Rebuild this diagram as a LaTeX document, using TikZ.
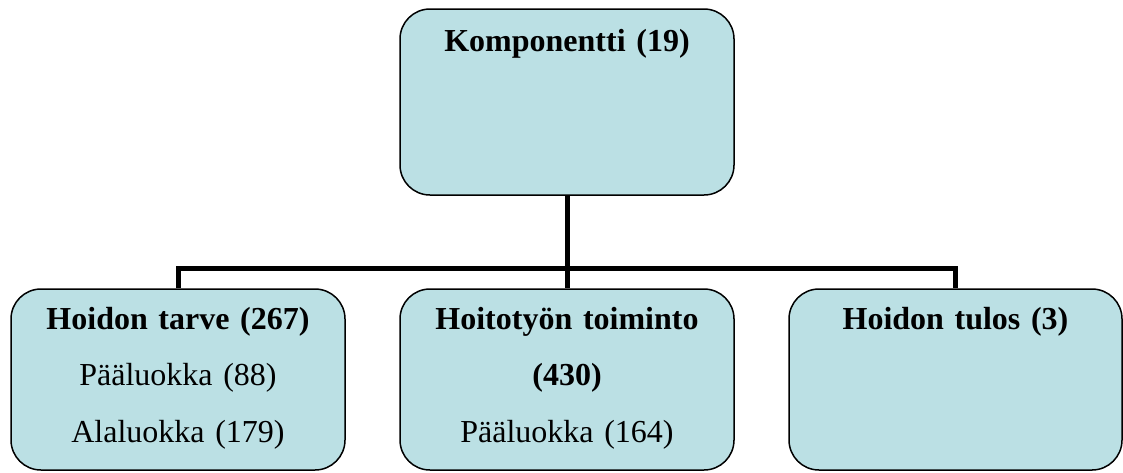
\documentclass[tikz,border=0pt]{standalone}
\usepackage{fontspec}
\setmainfont{Liberation Serif}
\definecolor{boxfill}{RGB}{187,224,228}
\tikzset{
  box/.style={rectangle,rounded corners=30pt,draw=black,line width=1.5pt,fill=boxfill,
    minimum width=334pt,inner sep=0pt},
  txt/.style={anchor=base,align=center,text width=320pt,inner sep=0pt,
    font=\fontsize{32}{56.5}\selectfont},
  conn/.style={line width=5pt}
}
\begin{document}
\begin{tikzpicture}[x=1pt,y=1pt]
\useasboundingbox (0,0) rectangle (1123,-472);
\node[box,minimum height=186pt] (K) at (567,-102) {};
\node[box,minimum height=181pt] (T) at (178,-379.5) {};
\node[box,minimum height=181pt] (M) at (567,-379.5) {};
\node[box,minimum height=181pt,minimum width=333pt] (R) at (955.5,-379.5) {};
\node[txt] (Kt) at ([yshift=-43pt]K.north) {\textbf{Komponentti (19)}};
\node[txt] (Tt) at ([yshift=-41pt]T.north) {\textbf{Hoidon tarve (267)}\\ Pääluokka (88)\\ Alaluokka (179)};
\node[txt] (Mt) at ([yshift=-41pt]M.north) {\textbf{Hoitotyön toiminto}\\ \textbf{(430)}\\ Pääluokka (164)};
\node[txt] (Rt) at ([yshift=-41pt]R.north) {\textbf{Hoidon tulos (3)}};
\coordinate (bus) at (567,-268);
\draw[conn] (K.south) -- (bus);
\draw[conn] (bus) -- (M.north);
\draw[conn] (T.north) |- (bus) -| (R.north);
\end{tikzpicture}
\end{document}
